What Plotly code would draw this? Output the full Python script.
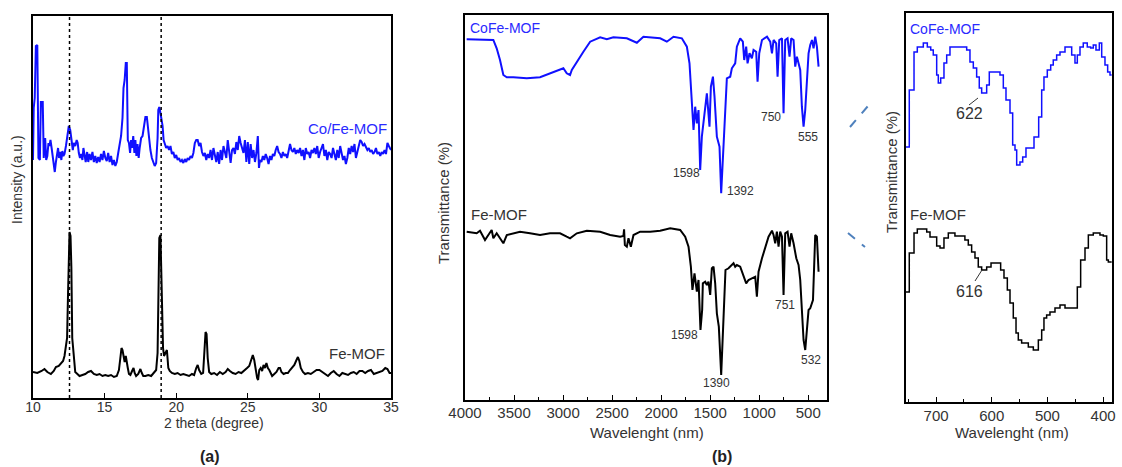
import plotly.graph_objects as go

# ---------------- Panel (a): XRD ----------------
xrd_cofe_theta = [10.00, 10.05, 10.12, 10.20, 10.30, 10.38, 10.48, 10.55, 10.68, 10.75, 10.85, 10.92, 11.00, 11.08, 11.15, 11.22, 11.30, 11.38, 11.45, 11.52, 11.60, 11.68, 11.75, 11.82, 11.90, 11.98, 12.05, 12.12, 12.20, 12.30, 12.40, 12.50, 12.60, 12.70, 12.78, 12.85, 12.95, 13.05, 13.12, 13.20, 13.28, 13.36, 13.45, 13.52, 13.60, 13.68, 13.78, 13.86, 13.95, 14.05, 14.15, 14.25, 14.35, 14.45, 14.55, 14.65, 14.75, 14.85, 14.95, 15.05, 15.15, 15.25, 15.35, 15.45, 15.55, 15.65, 15.75, 15.85, 15.95, 16.05, 16.15, 16.25, 16.32, 16.40, 16.48, 16.55, 16.62, 16.70, 16.78, 16.85, 16.92, 17.00, 17.08, 17.15, 17.22, 17.30, 17.38, 17.45, 17.55, 17.65, 17.75, 17.85, 17.95, 18.05, 18.12, 18.20, 18.30, 18.40, 18.50, 18.60, 18.70, 18.75, 18.82, 18.90, 18.98, 19.05, 19.12, 19.20, 19.30, 19.40, 19.50, 19.60, 19.70, 19.80, 19.90, 20.00, 20.10, 20.20, 20.30, 20.40, 20.50, 20.60, 20.70, 20.80, 20.90, 21.00, 21.10, 21.20, 21.30, 21.40, 21.50, 21.60, 21.70, 21.80, 21.90, 22.00, 22.10, 22.20, 22.30, 22.40, 22.50, 22.60, 22.70, 22.80, 22.90, 23.00, 23.10, 23.20, 23.30, 23.40, 23.50, 23.60, 23.70, 23.80, 23.90, 24.00, 24.10, 24.20, 24.30, 24.40, 24.50, 24.60, 24.70, 24.80, 24.90, 25.00, 25.10, 25.20, 25.30, 25.40, 25.50, 25.60, 25.70, 25.78, 25.85, 25.95, 26.05, 26.15, 26.25, 26.35, 26.45, 26.55, 26.65, 26.75, 26.85, 26.95, 27.05, 27.15, 27.25, 27.35, 27.45, 27.55, 27.65, 27.75, 27.85, 27.95, 28.05, 28.15, 28.25, 28.35, 28.45, 28.55, 28.65, 28.75, 28.85, 28.95, 29.05, 29.15, 29.25, 29.35, 29.45, 29.55, 29.65, 29.75, 29.85, 29.95, 30.05, 30.15, 30.25, 30.35, 30.45, 30.55, 30.65, 30.75, 30.85, 30.95, 31.05, 31.15, 31.25, 31.35, 31.45, 31.55, 31.65, 31.75, 31.85, 31.95, 32.05, 32.15, 32.25, 32.35, 32.45, 32.55, 32.65, 32.75, 32.85, 32.95, 33.05, 33.15, 33.25, 33.35, 33.45, 33.55, 33.65, 33.75, 33.85, 33.95, 34.05, 34.15, 34.25, 34.35, 34.45, 34.55, 34.65, 34.75, 34.85, 35.00]
xrd_cofe_int = [238, 290, 300, 352, 353, 240, 238, 296, 296, 240, 260, 238, 242, 255, 252, 258, 250, 240, 232, 226, 236, 244, 250, 240, 246, 238, 247, 242, 244, 252, 262, 272, 268, 255, 248, 255, 252, 258, 255, 245, 240, 244, 238, 250, 240, 236, 246, 236, 244, 238, 246, 236, 242, 235, 241, 236, 244, 238, 247, 240, 237, 245, 236, 242, 233, 238, 232, 236, 245, 255, 262, 280, 310, 318, 335, 335, 258, 255, 245, 258, 250, 262, 245, 258, 242, 254, 240, 250, 260, 262, 270, 281, 281, 265, 258, 248, 240, 235, 232, 235, 260, 288, 291, 285, 278, 272, 258, 255, 250, 252, 248, 252, 244, 246, 240, 243, 238, 240, 236, 238, 235, 239, 236, 240, 238, 242, 240, 245, 255, 258, 258, 252, 255, 246, 242, 245, 238, 244, 240, 248, 238, 250, 242, 236, 246, 234, 248, 238, 252, 244, 240, 258, 246, 235, 248, 250, 244, 256, 248, 262, 255, 250, 245, 258, 236, 256, 234, 254, 240, 248, 236, 245, 262, 230, 238, 236, 242, 238, 244, 240, 234, 242, 238, 244, 242, 248, 252, 246, 244, 240, 246, 242, 244, 240, 248, 254, 248, 246, 250, 244, 248, 245, 250, 242, 248, 238, 250, 244, 246, 240, 248, 245, 250, 244, 252, 240, 246, 250, 254, 242, 248, 238, 246, 244, 240, 250, 244, 238, 248, 240, 252, 244, 238, 242, 234, 240, 250, 244, 252, 246, 254, 240, 246, 250, 258, 256, 252, 254, 250, 248, 250, 246, 248, 244, 246, 250, 244, 246, 242, 246, 244, 248, 244, 255, 252, 248]

xrd_fe_theta = [10.00, 10.30, 10.60, 10.80, 11.00, 11.25, 11.45, 11.60, 11.80, 11.95, 12.10, 12.20, 12.30, 12.38, 12.44, 12.50, 12.55, 12.62, 12.68, 12.74, 12.80, 12.88, 12.95, 13.10, 13.25, 13.45, 13.65, 13.85, 14.05, 14.25, 14.45, 14.65, 14.85, 15.05, 15.25, 15.45, 15.65, 15.85, 16.00, 16.10, 16.18, 16.25, 16.32, 16.40, 16.48, 16.55, 16.62, 16.70, 16.80, 16.92, 17.02, 17.10, 17.20, 17.35, 17.50, 17.60, 17.70, 17.85, 18.05, 18.25, 18.45, 18.60, 18.70, 18.76, 18.82, 18.90, 18.96, 19.02, 19.08, 19.15, 19.25, 19.35, 19.45, 19.55, 19.70, 19.90, 20.10, 20.30, 20.50, 20.70, 20.90, 21.10, 21.25, 21.40, 21.50, 21.60, 21.75, 21.88, 21.95, 22.05, 22.12, 22.20, 22.30, 22.45, 22.65, 22.85, 23.05, 23.25, 23.45, 23.60, 23.75, 23.95, 24.15, 24.35, 24.55, 24.75, 24.95, 25.10, 25.25, 25.35, 25.45, 25.55, 25.65, 25.72, 25.80, 25.90, 26.00, 26.10, 26.20, 26.30, 26.40, 26.50, 26.60, 26.70, 26.85, 27.00, 27.15, 27.25, 27.35, 27.50, 27.65, 27.80, 27.95, 28.10, 28.25, 28.40, 28.50, 28.60, 28.70, 28.85, 29.00, 29.20, 29.40, 29.60, 29.80, 30.00, 30.20, 30.40, 30.60, 30.80, 31.00, 31.20, 31.40, 31.60, 31.80, 32.00, 32.20, 32.40, 32.60, 32.80, 33.00, 33.20, 33.40, 33.60, 33.80, 34.00, 34.20, 34.40, 34.60, 34.75, 34.90, 35.00]
xrd_fe_int = [26, 25, 27, 29, 26, 24, 27, 31, 32, 34, 37, 42, 50, 60, 100, 150, 166, 162, 130, 60, 48, 32, 26, 24, 22, 23, 24, 26, 27, 24, 23, 24, 22, 23, 22, 23, 21, 22, 28, 40, 50, 48, 40, 36, 42, 33, 30, 24, 23, 27, 30, 25, 22, 24, 29, 25, 22, 22, 23, 22, 25, 28, 45, 95, 160, 163, 125, 80, 50, 42, 46, 48, 30, 27, 25, 24, 25, 23, 24, 23, 22, 24, 23, 30, 33, 28, 24, 25, 48, 66, 64, 40, 26, 24, 25, 23, 26, 24, 26, 29, 27, 25, 24, 26, 25, 28, 30, 32, 40, 43, 38, 28, 20, 18, 28, 30, 27, 33, 30, 35, 30, 28, 24, 22, 24, 26, 30, 30, 26, 24, 25, 25, 28, 30, 33, 38, 41, 37, 30, 26, 24, 25, 24, 26, 28, 28, 26, 24, 22, 25, 27, 24, 22, 25, 24, 23, 25, 26, 24, 27, 27, 25, 27, 28, 24, 25, 26, 27, 30, 29, 25, 25]

xrd_ref_lines = [12.55, 18.95]
xrd_ticks = [10, 15, 20, 25, 30, 35]

# ---------------- Panel (b): FTIR ----------------
ir_cofe_w = [3983, 3745, 3711, 3677, 3643, 3609, 3574, 3507, 3370, 3235, 3133, 3064, 3031, 2997, 2963, 2929, 2911, 2860, 2793, 2724, 2622, 2554, 2487, 2350, 2248, 2181, 2010, 1942, 1874, 1789, 1738, 1711, 1694, 1681, 1670, 1653, 1636, 1619, 1602, 1585, 1558, 1534, 1507, 1493, 1472, 1456, 1432, 1405, 1388, 1364, 1347, 1330, 1296, 1279, 1245, 1228, 1194, 1167, 1153, 1133, 1119, 1099, 1075, 1058, 1031, 1017, 1000, 972, 921, 888, 870, 854, 827, 813, 796, 768, 752, 735, 711, 691, 674, 650, 633, 616, 599, 582, 565, 548, 531, 514, 497, 480, 462, 446, 429, 412, 395]
ir_cofe_t = [360.7, 360.7, 360, 351.7, 340, 325, 322.7, 322.7, 321.7, 322.7, 326.7, 329.3, 330.7, 331.7, 326.7, 325, 330, 338.3, 348.3, 358.3, 362.7, 360.7, 362.7, 361.7, 357.3, 363.3, 361.7, 358.3, 363.3, 361.7, 353.3, 336.7, 313.3, 293.3, 270, 293.3, 276.7, 290, 230, 263.3, 290, 306.7, 273.3, 313.3, 323.3, 303.3, 263.3, 253.3, 206.7, 253.3, 296.7, 321.7, 323.3, 331.7, 336.7, 353.3, 361.7, 358.3, 340, 353.3, 336.7, 346.7, 341.7, 350, 348.3, 318.3, 346.7, 360, 363.3, 358.3, 346.7, 360, 356.7, 323.3, 360, 361.7, 286.7, 360, 361.7, 343.3, 361.7, 360, 333.3, 343.3, 336.7, 330, 293.3, 273.3, 290, 316.7, 346.7, 355, 360, 351.7, 363.3, 353.3, 333.3]

ir_fe_w = [3983, 3881, 3847, 3796, 3762, 3728, 3711, 3677, 3643, 3609, 3574, 3507, 3439, 3337, 3235, 3133, 3031, 2963, 2929, 2860, 2758, 2622, 2520, 2418, 2385, 2378, 2370, 2350, 2333, 2309, 2282, 2214, 2112, 2010, 1908, 1806, 1755, 1721, 1697, 1681, 1660, 1636, 1619, 1599, 1582, 1575, 1551, 1534, 1517, 1500, 1483, 1466, 1449, 1432, 1412, 1388, 1364, 1344, 1313, 1279, 1262, 1245, 1228, 1194, 1160, 1133, 1109, 1075, 1041, 1024, 1007, 972, 939, 905, 870, 854, 837, 820, 803, 786, 768, 752, 735, 711, 691, 674, 650, 622, 599, 582, 565, 548, 531, 514, 497, 480, 452, 429, 412, 395]
ir_fe_t = [168.3, 166.7, 169.3, 160, 165, 170, 161.7, 166.7, 161.7, 156.7, 165, 166.7, 168.3, 166.7, 165, 166.7, 166.7, 163.3, 161.7, 166.7, 169.3, 168.3, 165, 163.3, 164, 170.7, 155, 153.3, 161.7, 153.3, 165, 168.3, 168.3, 169.3, 171.7, 170, 163.3, 153.3, 133.3, 110, 126.7, 108.3, 120, 70, 90, 116.7, 118.3, 115, 118.3, 105, 131.7, 133.3, 116.7, 86.7, 73.3, 25, 83.3, 130, 131.7, 135, 136.7, 133.3, 135, 133.3, 123.3, 116.7, 120, 121.7, 123.3, 103.3, 128.3, 141.7, 153.3, 163.3, 169.3, 165, 156.7, 168.3, 153.3, 168.3, 163.3, 105, 166.7, 168.3, 153.3, 166.7, 156.7, 141.7, 135, 120, 90, 60, 50, 73.3, 90, 91.7, 100, 165, 163.3, 128.3]

ir_ticks = [4000, 3500, 3000, 2500, 2000, 1500, 1000, 500]
ir_cofe_peaks = [1598, 1392, 750, 555]
ir_fe_peaks = [1598, 1390, 751, 532]

# ---------------- Panel (c): zoomed FTIR ----------------
zoom_cofe_w = [754.5, 748.1, 739.6, 733.7, 722.9, 715.7, 709.6, 705.0, 698.9, 696.0, 691.7, 685.8, 680.9, 675.0, 645.0, 639.1, 633.1, 627.1, 622.4, 618.1, 609.1, 604.4, 585.2, 579.2, 574.4, 567.2, 562.4, 558.2, 555.2, 549.3, 544.4, 538.5, 524.1, 515.7, 510.3, 506.2, 500.2, 494.1, 489.5, 483.4, 477.4, 468.4, 456.4, 450.5, 446.3, 441.5, 435.6, 428.4, 422.3, 417.6, 412.8, 406.8, 402.5, 396.6, 391.8, 387.6, 384.6]
zoom_cofe_t = [255, 312, 350, 355, 359, 355, 352, 347, 327, 319, 324, 339, 347, 355, 352, 340, 334, 325, 314, 309, 317, 330, 327, 314, 302, 289, 257, 252, 237, 240, 245, 254, 265, 285, 312, 325, 332, 337, 342, 347, 350, 355, 347, 339, 347, 355, 359, 355, 354, 357, 352, 359, 345, 337, 330, 327, 327]

zoom_fe_w = [754.5, 748.1, 739.6, 733.7, 716.8, 710.9, 698.9, 692.9, 685.8, 678.0, 666.1, 657.1, 648.2, 642.1, 636.1, 630.1, 624.2, 618.1, 609.1, 601.3, 584.0, 578.0, 572.0, 567.2, 561.3, 556.4, 552.3, 546.3, 534.3, 525.3, 516.3, 510.3, 506.2, 501.4, 495.4, 486.4, 477.4, 468.4, 446.3, 440.3, 432.5, 426.5, 417.6, 405.6, 399.6, 393.6, 390.6, 384.6]
zoom_fe_t = [110, 149, 169, 173, 170, 165, 156, 154, 164, 169, 166, 166, 162, 157, 150, 144, 135, 132, 135, 139, 132, 124, 112, 99, 84, 69, 62, 59, 55, 52, 62, 72, 84, 87, 90, 94, 97, 94, 115, 142, 154, 167, 169, 167, 166, 142, 140, 140]
zoom_ticks = [700, 600, 500, 400]
zoom_cofe_peak = 622
zoom_fe_peak = 616

BLUE = "#1010ff"
BLACK = "#000000"
TXT = "#333333"
FONT = "Liberation Sans, Arial, sans-serif"

fig = go.Figure()
fig.add_trace(go.Scatter(x=xrd_cofe_theta, y=xrd_cofe_int, mode="lines", line=dict(color=BLUE, width=2), xaxis="x", yaxis="y"))
fig.add_trace(go.Scatter(x=xrd_fe_theta, y=xrd_fe_int, mode="lines", line=dict(color=BLACK, width=2), xaxis="x", yaxis="y"))
fig.add_trace(go.Scatter(x=ir_cofe_w, y=ir_cofe_t, mode="lines", line=dict(color=BLUE, width=2), xaxis="x2", yaxis="y2"))
fig.add_trace(go.Scatter(x=ir_fe_w, y=ir_fe_t, mode="lines", line=dict(color=BLACK, width=2), xaxis="x2", yaxis="y2"))
fig.add_trace(go.Scatter(x=zoom_cofe_w, y=zoom_cofe_t, mode="lines", line=dict(color=BLUE, width=1.5, shape="hv"), xaxis="x3", yaxis="y3"))
fig.add_trace(go.Scatter(x=zoom_fe_w, y=zoom_fe_t, mode="lines", line=dict(color=BLACK, width=1.5, shape="hv"), xaxis="x3", yaxis="y3"))

W, H = 1122, 467
def xd(a, b):
    return [a / W, b / W]
def yd(top, bottom):
    return [1 - bottom / H, 1 - top / H]

def ax(**kw):
    base = dict(showline=True, linecolor="black", linewidth=1.5, mirror=True, showgrid=False, zeroline=False,
                automargin=False, tickfont=dict(family=FONT, size=14, color=TXT))
    base.update(kw)
    return base

fig.update_layout(
    template="none",
    width=W, height=H, margin=dict(l=0, r=0, t=0, b=0, pad=0), autosize=False,
    paper_bgcolor="white", plot_bgcolor="white", showlegend=False,
    font=dict(family=FONT, color=TXT),
    xaxis=ax(domain=xd(33, 391), range=[10, 35], tickvals=xrd_ticks, ticks="inside", ticklen=5, tickcolor="black",
             anchor="y", ticklabelstandoff=-5, tickfont=dict(family=FONT, size=14, color=TXT)),
    yaxis=ax(domain=yd(16, 398), range=[0, 382], showticklabels=False, ticks="", anchor="x"),
    xaxis2=ax(domain=xd(465, 827), range=[4000, 309], tickvals=ir_ticks, ticks="inside", ticklen=5, tickcolor="black",
              minor=dict(dtick=250, tick0=0, ticks="inside", ticklen=3, tickcolor="black"), anchor="y2",
              ticklabelstandoff=-2, tickfont=dict(family=FONT, size=15, color=TXT)),
    yaxis2=ax(domain=yd(15, 400), range=[0, 385], showticklabels=False, ticks="", anchor="x2"),
    xaxis3=ax(domain=xd(906, 1112), range=[754, 384], tickvals=zoom_ticks, ticks="inside", ticklen=5, tickcolor="black",
              minor=dict(dtick=50, tick0=0, ticks="inside", ticklen=3, tickcolor="black"), anchor="y3",
              ticklabelstandoff=-1, tickfont=dict(family=FONT, size=15, color=TXT)),
    yaxis3=ax(domain=yd(13, 402), range=[0, 389], showticklabels=False, ticks="", anchor="x3"),
)

# dotted reference lines (a)
for v in xrd_ref_lines:
    fig.add_shape(type="line", xref="x", yref="y domain", x0=v, x1=v, y0=0, y1=1,
                  line=dict(color="black", width=1.5, dash="dot"))

ann = []
def A(text, x, y, size=14, color=TXT, xanchor="center", yanchor="middle", textangle=0, bold=False):
    t = f"<b>{text}</b>" if bold else text
    ann.append(dict(text=t, x=x, y=y, xref="paper", yref="paper", showarrow=False, xanchor=xanchor, yanchor=yanchor,
                    textangle=textangle, font=dict(family=FONT, size=size, color=color)))

def px(x):
    return x / W
def py(y):
    return 1 - y / H

# panel (a) labels
A("Co/Fe-MOF", px(389), py(128), size=15, color="#2a2aff", xanchor="right")
A("Fe-MOF", px(387), py(353), size=15, color=TXT, xanchor="right")
A("Intensity (a.u.)", px(17), py(180), size=14, textangle=-90)
A("2 theta (degree)", px(214), py(423), size=14)
A("(a)", px(210), py(456), size=16, color="#222222", bold=True)

# panel (b) labels
A("CoFe-MOF", px(468), py(28), size=14, color="#2a2aff", xanchor="left")
A("Fe-MOF", px(469), py(215), size=15, color=TXT, xanchor="left")
A("Transmittance (%)", px(444), py(203), size=15, textangle=-90)
A("Wavelenght (nm)", px(647), py(432), size=15)
A("(b)", px(722), py(456), size=16, color="#222222", bold=True)
b_peak_pos = [(686, 173), (740, 191), (771, 117), (808, 137)]
for p, (xx, yy) in zip(ir_cofe_peaks, b_peak_pos):
    A(str(p), px(xx), py(yy), size=12)
b_peak_pos2 = [(684, 335), (716, 383), (785, 305), (811, 360)]
for p, (xx, yy) in zip(ir_fe_peaks, b_peak_pos2):
    A(str(p), px(xx), py(yy), size=12)

# panel (c) labels
A("CoFe-MOF", px(908), py(29), size=14, color="#2a2aff", xanchor="left")
A("Fe-MOF", px(908), py(214), size=15, color=TXT, xanchor="left")
A("Transmittance (%)", px(891), py(172), size=15, textangle=-90)
A("Wavelenght (nm)", px(1012), py(432), size=15)
A(str(zoom_cofe_peak), px(969), py(113), size=16)
A(str(zoom_fe_peak), px(969), py(291), size=16)
fig.update_layout(annotations=ann)

# leader lines in (c)
fig.add_shape(type="line", xref="paper", yref="paper", x0=px(969), y0=py(105), x1=px(978), y1=py(98),
              line=dict(color="#333333", width=1))
fig.add_shape(type="line", xref="paper", yref="paper", x0=px(975), y0=py(281), x1=px(982), y1=py(270),
              line=dict(color="#333333", width=1))
# zoom connector dashes between (b) and (c)
fig.add_shape(type="line", xref="paper", yref="paper", x0=px(850), y0=py(127), x1=px(868), y1=py(106),
              line=dict(color="#4f81bd", width=2, dash="dash"))
fig.add_shape(type="line", xref="paper", yref="paper", x0=px(848), y0=py(233), x1=px(865), y1=py(247),
              line=dict(color="#4f81bd", width=2, dash="dash"))

fig.write_html("out.html", config={"displayModeBar": False},
               post_script="document.body.style.margin='0px';document.body.style.overflow='hidden';")
